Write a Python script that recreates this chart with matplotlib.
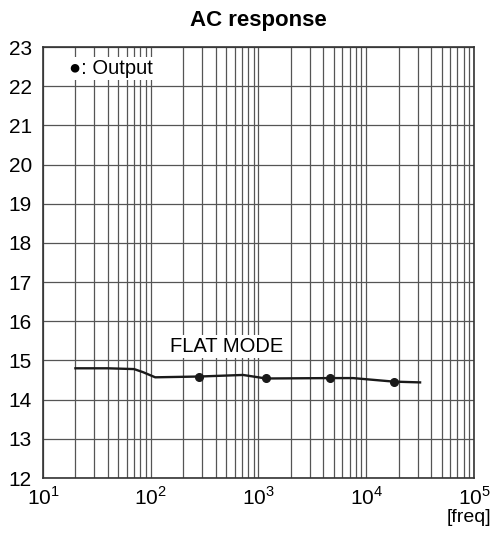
import numpy as np
import matplotlib
matplotlib.use("Agg")
import matplotlib.pyplot as plt
from matplotlib.ticker import LogLocator, NullFormatter

plt.rcParams['font.family'] = ['Liberation Sans', 'DejaVu Sans']
plt.rcParams['mathtext.fontset'] = 'custom'
plt.rcParams['mathtext.rm'] = 'Liberation Sans'

# curve
freq = [20, 40, 70, 85, 110, 282, 718, 1175, 4640, 7540, 18000, 31600]
level = [14.80, 14.80, 14.78, 14.70, 14.57, 14.59, 14.63, 14.54, 14.55, 14.55, 14.46, 14.44]
marker_freq = [282, 1175, 4640, 18000]
marker_level = [14.59, 14.54, 14.55, 14.46]

x_ticks = [10, 100, 1000, 10000, 100000]
x_ticklabels = ['10$^{1}$', '10$^{2}$', '10$^{3}$', '10$^{4}$', '10$^{5}$']
y_ticks = list(range(12, 24))

grid_col = '#555555'

fig = plt.figure(figsize=(4.96, 5.36), dpi=100)
ax = fig.add_axes([0.0867, 0.1082, 0.8689, 0.8041])

ax.plot(freq, level, color='#1a1a1a', lw=1.7, zorder=4)
ax.plot(marker_freq, marker_level, 'o', color='#1a1a1a', ms=5.5, zorder=5)

ax.set_xscale('log')
ax.set_xlim(10, 100000)
ax.set_ylim(12, 23)
ax.set_xticks(x_ticks)
ax.set_xticklabels(x_ticklabels)
ax.xaxis.set_minor_locator(LogLocator(base=10, subs=np.arange(2, 10)))
ax.xaxis.set_minor_formatter(NullFormatter())
ax.set_yticks(y_ticks)
ax.tick_params(which='both', length=0, labelsize=15)
ax.tick_params(axis='x', pad=6)
ax.tick_params(axis='y', pad=8)
ax.grid(which='major', color=grid_col, lw=0.9)
ax.grid(which='minor', axis='x', color=grid_col, lw=0.9)
ax.set_axisbelow(True)
for sp in ax.spines.values():
    sp.set_color('#333333')
    sp.set_linewidth(1.2)

ax.set_title('AC response', fontsize=16, fontweight='bold', pad=15)
fig.text(0.99, 0.034, '[freq]', ha='right', va='center', fontsize=14)

ax.text(17.5, 22.46, u'\u25cf: Output', fontsize=14.5, va='center', ha='left',
        bbox=dict(facecolor='white', edgecolor='none', pad=1.5), zorder=6)
ax.text(510, 15.35, 'FLAT MODE', fontsize=14.5, va='center', ha='center',
        bbox=dict(facecolor='white', edgecolor='none', pad=1.5), zorder=6)

fig.savefig('out.png', dpi=100)
